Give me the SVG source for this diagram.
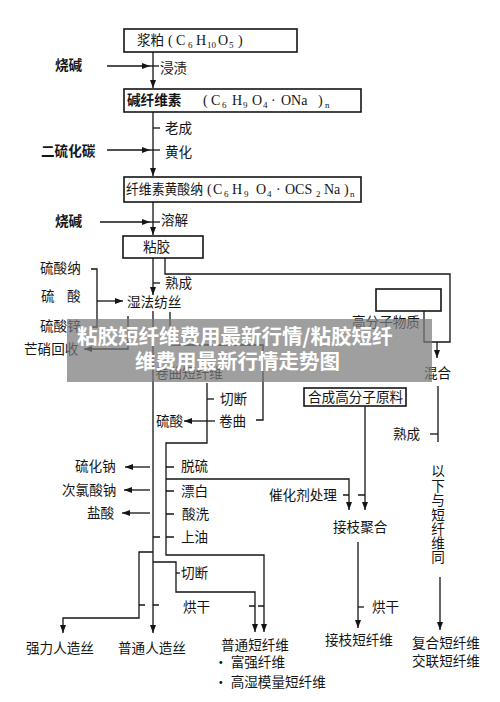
<svg xmlns="http://www.w3.org/2000/svg" width="500" height="702" viewBox="0 0 500 702">
<style>
.ln{stroke:#141414;stroke-width:1.3;fill:none}
.bx{stroke:#141414;stroke-width:1.6;fill:#fff}
.t{font-family:"Noto Sans CJK SC",sans-serif;font-size:13.6px;fill:#141414}
.b{font-weight:bold}
.f{font-family:"Liberation Serif","Noto Sans CJK SC",serif;font-size:14px;fill:#141414}
.s{font-size:9px}
.wm{font-family:"Noto Sans CJK SC",sans-serif;font-size:20.5px;font-weight:bold;fill:#fff}
</style>
<defs>
<marker id="ar" viewBox="0 0 8 6" refX="8" refY="3" markerWidth="8" markerHeight="6" markerUnits="userSpaceOnUse" orient="auto">
<path d="M0,0 L8,3 L0,6 Z" fill="#141414"/>
</marker>
</defs>
<rect width="500" height="702" fill="#fff"/>

<g id="connectors">
<path class="ln" d="M153 52 V88" marker-end="url(#ar)"/>
<path class="ln" d="M153 112 V176" marker-end="url(#ar)"/>
<path class="ln" d="M153 202 V235" marker-end="url(#ar)"/>
<path class="ln" d="M153 258 V295" marker-end="url(#ar)"/>
<path class="ln" d="M153 311 V633" marker-end="url(#ar)"/>
<path class="ln" d="M107 66 H150" marker-end="url(#ar)"/>
<path class="ln" d="M150 66 H159"/>
<path class="ln" d="M153 128 H160"/>
<path class="ln" d="M107 150 H150" marker-end="url(#ar)"/>
<path class="ln" d="M150 150 H160"/>
<path class="ln" d="M100 222 H150" marker-end="url(#ar)"/>
<path class="ln" d="M150 222 H160"/>
<path class="ln" d="M153 283 H160"/>
<path class="ln" d="M165 258 V274 H450 V342 H424 V311"/>
<path class="ln" d="M437 342 V358" marker-end="url(#ar)"/>
<path class="ln" d="M438 386 V442"/>
<path class="ln" d="M430 434 H438"/>
<path class="ln" d="M440 577 V630" marker-end="url(#ar)"/>
<path class="ln" d="M91 269 H97 V327 H91"/>
<path class="ln" d="M97 301 H123" marker-end="url(#ar)"/>
<path class="ln" d="M128 316 V349 H84" marker-end="url(#ar)"/>
<path class="ln" d="M170 312 V345 H263 V420 H256"/>
<path class="ln" d="M207 383 V443 H166 V555 H264 V632" marker-end="url(#ar)"/>
<path class="ln" d="M207 399 H214"/>
<path class="ln" d="M215 421 H184" marker-end="url(#ar)"/>
<path class="ln" d="M166 467 H174 M166 491 H174 M166 514 H174 M166 537 H174 M153 537 H160"/>
<path class="ln" d="M150 467 H125" marker-end="url(#ar)"/>
<path class="ln" d="M150 490 H124" marker-end="url(#ar)"/>
<path class="ln" d="M150 513 H122" marker-end="url(#ar)"/>
<path class="ln" d="M166 479 H349 V510" marker-end="url(#ar)"/>
<path class="ln" d="M365 406 V510" marker-end="url(#ar)"/>
<path class="ln" d="M343 495 H349 M358 495 H365"/>
<path class="ln" d="M358 542 V628" marker-end="url(#ar)"/>
<path class="ln" d="M358 607 H364"/>
<path class="ln" d="M153 552 H139 V618 H63 V633" marker-end="url(#ar)"/>
<path class="ln" d="M139 605 H145 M153 605 H159"/>
<path class="ln" d="M153 562 H176 V592 H255 V632" marker-end="url(#ar)"/>
<path class="ln" d="M176 573 H180"/>
<path class="ln" d="M249 606 H255 M258 606 H264"/>
</g>

<g id="n-pulp">
<rect class="bx" x="124" y="29" width="173" height="23"/>
<text class="t" x="137" y="45">浆粕</text>
<text class="f" y="45"><tspan x="168">(</tspan><tspan x="176">C</tspan><tspan x="188" class="s" dy="3">6</tspan><tspan x="196" dy="-3">H</tspan><tspan x="207" class="s" dy="3">10</tspan><tspan x="218" dy="-3">O</tspan><tspan x="229" class="s" dy="3">5</tspan><tspan x="238" dy="-3">)</tspan></text>
</g>
<g id="n-alkcell">
<rect class="bx" x="124" y="89" width="237" height="23"/>
<text class="t b" x="127" y="105">碱纤维素</text>
<text class="f" y="105"><tspan x="203">(</tspan><tspan x="211">C</tspan><tspan x="222" class="s" dy="3">6</tspan><tspan x="232" dy="-3">H</tspan><tspan x="243" class="s" dy="3">9</tspan><tspan x="252" dy="-3">O</tspan><tspan x="263" class="s" dy="3">4</tspan><tspan x="271" dy="-3">·</tspan><tspan x="281">ONa</tspan><tspan x="318">)</tspan><tspan x="325" class="s" dy="3">n</tspan></text>
</g>
<g id="n-xanthate">
<rect class="bx" x="124" y="177" width="237" height="25"/>
<text class="t" x="126" y="194" textLength="77" lengthAdjust="spacingAndGlyphs">纤维素黄酸纳</text>
<text class="f" y="194"><tspan x="207">(</tspan><tspan x="213">C</tspan><tspan x="224" class="s" dy="3">6</tspan><tspan x="232" dy="-3">H</tspan><tspan x="244" class="s" dy="3">9</tspan><tspan x="256" dy="-3">O</tspan><tspan x="267" class="s" dy="3">4</tspan><tspan x="276" dy="-3">·</tspan><tspan x="285">OCS</tspan><tspan x="316" class="s" dy="3">2</tspan><tspan x="324" dy="-3">Na</tspan><tspan x="344">)</tspan><tspan x="350" class="s" dy="3">n</tspan></text>
</g>
<g id="n-viscose">
<rect class="bx" x="123" y="236" width="80" height="22"/>
<text class="t" x="143" y="252">粘胶</text>
</g>
<g id="n-polymer">
<rect class="bx" x="376" y="289" width="65" height="22"/>
<text class="t" x="352" y="327">高分子物质</text>
</g>
<g id="n-synth">
<rect class="bx" x="304" y="388" width="102" height="18"/>
<text class="t" x="308" y="402">合成高分子原料</text>
</g>

<g id="labels">
<text class="t b" x="55" y="70">烧碱</text>
<text class="t" x="160" y="73">浸渍</text>
<text class="t" x="165" y="133">老成</text>
<text class="t b" x="41" y="156">二硫化碳</text>
<text class="t" x="165" y="157">黄化</text>
<text class="t b" x="55" y="226">烧碱</text>
<text class="t" x="161" y="225">溶解</text>
<text class="t" x="165" y="288">熟成</text>
<text class="t" x="40" y="273">硫酸纳</text>
<text class="t" x="41" y="301">硫</text>
<text class="t" x="67" y="301">酸</text>
<text class="t" x="40" y="331">硫酸锌</text>
<text class="t" x="24" y="354">芒硝回收</text>
<text class="t" x="127" y="307">湿法纺丝</text>
<text class="t" x="155" y="378">卷曲短纤维</text>
<text class="t" x="424" y="378">混合</text>
<text class="t" x="220" y="404">切断</text>
<text class="t" x="156" y="426">硫酸</text>
<text class="t" x="219" y="426">卷曲</text>
<text class="t" x="393" y="439">熟成</text>
<text class="t" x="75" y="471">硫化钠</text>
<text class="t" x="181" y="471">脱硫</text>
<text class="t" x="62" y="495">次氯酸钠</text>
<text class="t" x="181" y="496">漂白</text>
<text class="t" x="269" y="500">催化剂处理</text>
<text class="t" x="87" y="518">盐酸</text>
<text class="t" x="182" y="519">酸洗</text>
<text class="t" x="181" y="542">上油</text>
<text class="t" x="333" y="532">接枝聚合</text>
<text class="t" x="181" y="578">切断</text>
<text class="t" x="183" y="612">烘干</text>
<text class="t" x="372" y="612">烘干</text>
<text class="t" x="26" y="653">强力人造丝</text>
<text class="t" x="118" y="653">普通人造丝</text>
<text class="t" x="221" y="650">普通短纤维</text>
<text class="t" x="214" y="667">• 富强纤维</text>
<text class="t" x="214" y="687">• 高湿模量短纤维</text>
<text class="t" x="325" y="645">接枝短纤维</text>
<text class="t" x="412" y="648">复合短纤维</text>
<text class="t" x="412" y="666">交联短纤维</text>
<text class="t" text-anchor="middle"><tspan x="438" y="476">以</tspan><tspan x="438" y="491">下</tspan><tspan x="438" y="505">与</tspan><tspan x="438" y="520">短</tspan><tspan x="438" y="534">纤</tspan><tspan x="438" y="548">维</tspan><tspan x="438" y="562">同</tspan></text>
</g>

<g id="watermark">
<rect x="67" y="319" width="365" height="63" fill="#7a7a7a" fill-opacity="0.72"/>
<text class="wm" x="77" y="344">粘胶短纤维费用最新行情/粘胶短纤</text>
<text class="wm" x="135" y="369">维费用最新行情走势图</text>
</g>
</svg>
